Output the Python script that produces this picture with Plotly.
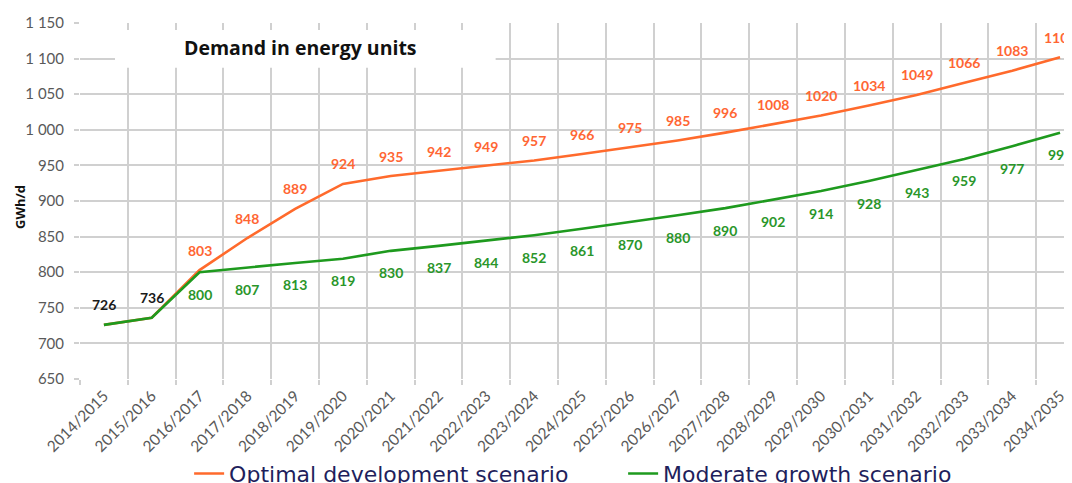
import plotly.graph_objects as go

categories = ["2014/2015", "2015/2016", "2016/2017", "2017/2018", "2018/2019", "2019/2020",
              "2020/2021", "2021/2022", "2022/2023", "2023/2024", "2024/2025", "2025/2026",
              "2026/2027", "2027/2028", "2028/2029", "2029/2030", "2030/2031", "2031/2032",
              "2032/2033", "2033/2034", "2034/2035"]
optimal = [726, 736, 803, 848, 889, 924, 935, 942, 949, 957, 966, 975, 985, 996, 1008,
           1020, 1034, 1049, 1066, 1083, 1102]
moderate = [726, 736, 800, 807, 813, 819, 830, 837, 844, 852, 861, 870, 880, 890, 902,
            914, 928, 943, 959, 977, 996]
y_ticks = [650, 700, 750, 800, 850, 900, 950, 1000, 1050, 1100, 1150]

ORANGE = "#FF6A2C"
ORANGE_TXT = "#FF6633"
GREEN = "#1E9A1E"
GREEN_TXT = "#2A962A"
GRID = "#D0D0D0"

fig = go.Figure()
fig.add_trace(go.Scatter(x=categories, y=optimal, mode="lines", name="Optimal development scenario",
                         line=dict(color=ORANGE, width=2.6)))
fig.add_trace(go.Scatter(x=categories, y=moderate, mode="lines", name="Moderate growth scenario",
                         line=dict(color=GREEN, width=2.6)))

label_font = "Lato, 'DejaVu Sans', sans-serif"
for i, c in enumerate(categories):
    if i < 2:
        fig.add_annotation(x=c, y=optimal[i], text=str(optimal[i]), showarrow=False, yshift=20,
                           font=dict(family=label_font, size=14, color="#1a1a1a", weight="bold"))
        continue
    fig.add_annotation(x=c, y=optimal[i], text=str(optimal[i]), showarrow=False, yshift=20,
                       font=dict(family=label_font, size=14, color=ORANGE_TXT, weight="bold"))
    fig.add_annotation(x=c, y=moderate[i], text=str(moderate[i]), showarrow=False, yshift=-22,
                       font=dict(family=label_font, size=14, color=GREEN_TXT, weight="bold"))

# title box
fig.add_shape(type="rect", xref="paper", yref="paper", x0=0.0353, x1=0.419, y0=0.874, y1=0.980,
              fillcolor="white", line=dict(width=0), layer="above")
fig.add_annotation(xref="paper", yref="paper", x=0.222, y=0.930, text="Demand in energy units",
                   showarrow=False, xanchor="center", yanchor="middle",
                   font=dict(family="'Open Sans', sans-serif", size=19.5, color="#111111", weight="bold"))
# y-axis title
fig.add_annotation(xref="paper", yref="paper", x=-0.0605, y=0.483, text="GWh/d", textangle=-90,
                   showarrow=False, xanchor="center", yanchor="middle",
                   font=dict(family="'Open Sans', sans-serif", size=13, color="#111111", weight="bold"))

fig.update_layout(
    width=1064, height=483,
    margin=dict(l=72, r=0, t=15, b=112, autoexpand=False),
    paper_bgcolor="white", plot_bgcolor="white",
    separators=". ",
    showlegend=True,
    legend=dict(orientation="h", x=0.110, xanchor="left", y=-0.266, yanchor="middle",
                font=dict(family="'DejaVu Sans', sans-serif", size=22, color="#1F1F5C"),
                entrywidth=389, entrywidthmode="pixels", bgcolor="rgba(0,0,0,0)"),
    xaxis=dict(type="category", range=[-0.5, 20.25], tickson="boundaries", showgrid=True,
               gridcolor=GRID, gridwidth=1.5, ticks="outside", ticklen=5, tickcolor=GRID,
               tickwidth=1.5, tickangle=-45, automargin=False, showline=False, zeroline=False,
               ticklabelstandoff=4,
               tickfont=dict(family="Lato, sans-serif", size=15.5, color="#595959")),
    yaxis=dict(range=[650, 1150], tickvals=y_ticks, tickformat=",d", showgrid=True,
               gridcolor=GRID, gridwidth=1.5, ticks="outside", ticklen=5, tickcolor=GRID,
               tickwidth=1.5, automargin=False, showline=False, zeroline=False,
               ticklabelstandoff=7,
               tickfont=dict(family="Lato, sans-serif", size=15, color="#595959")),
)

fig.write_html("out.html")
